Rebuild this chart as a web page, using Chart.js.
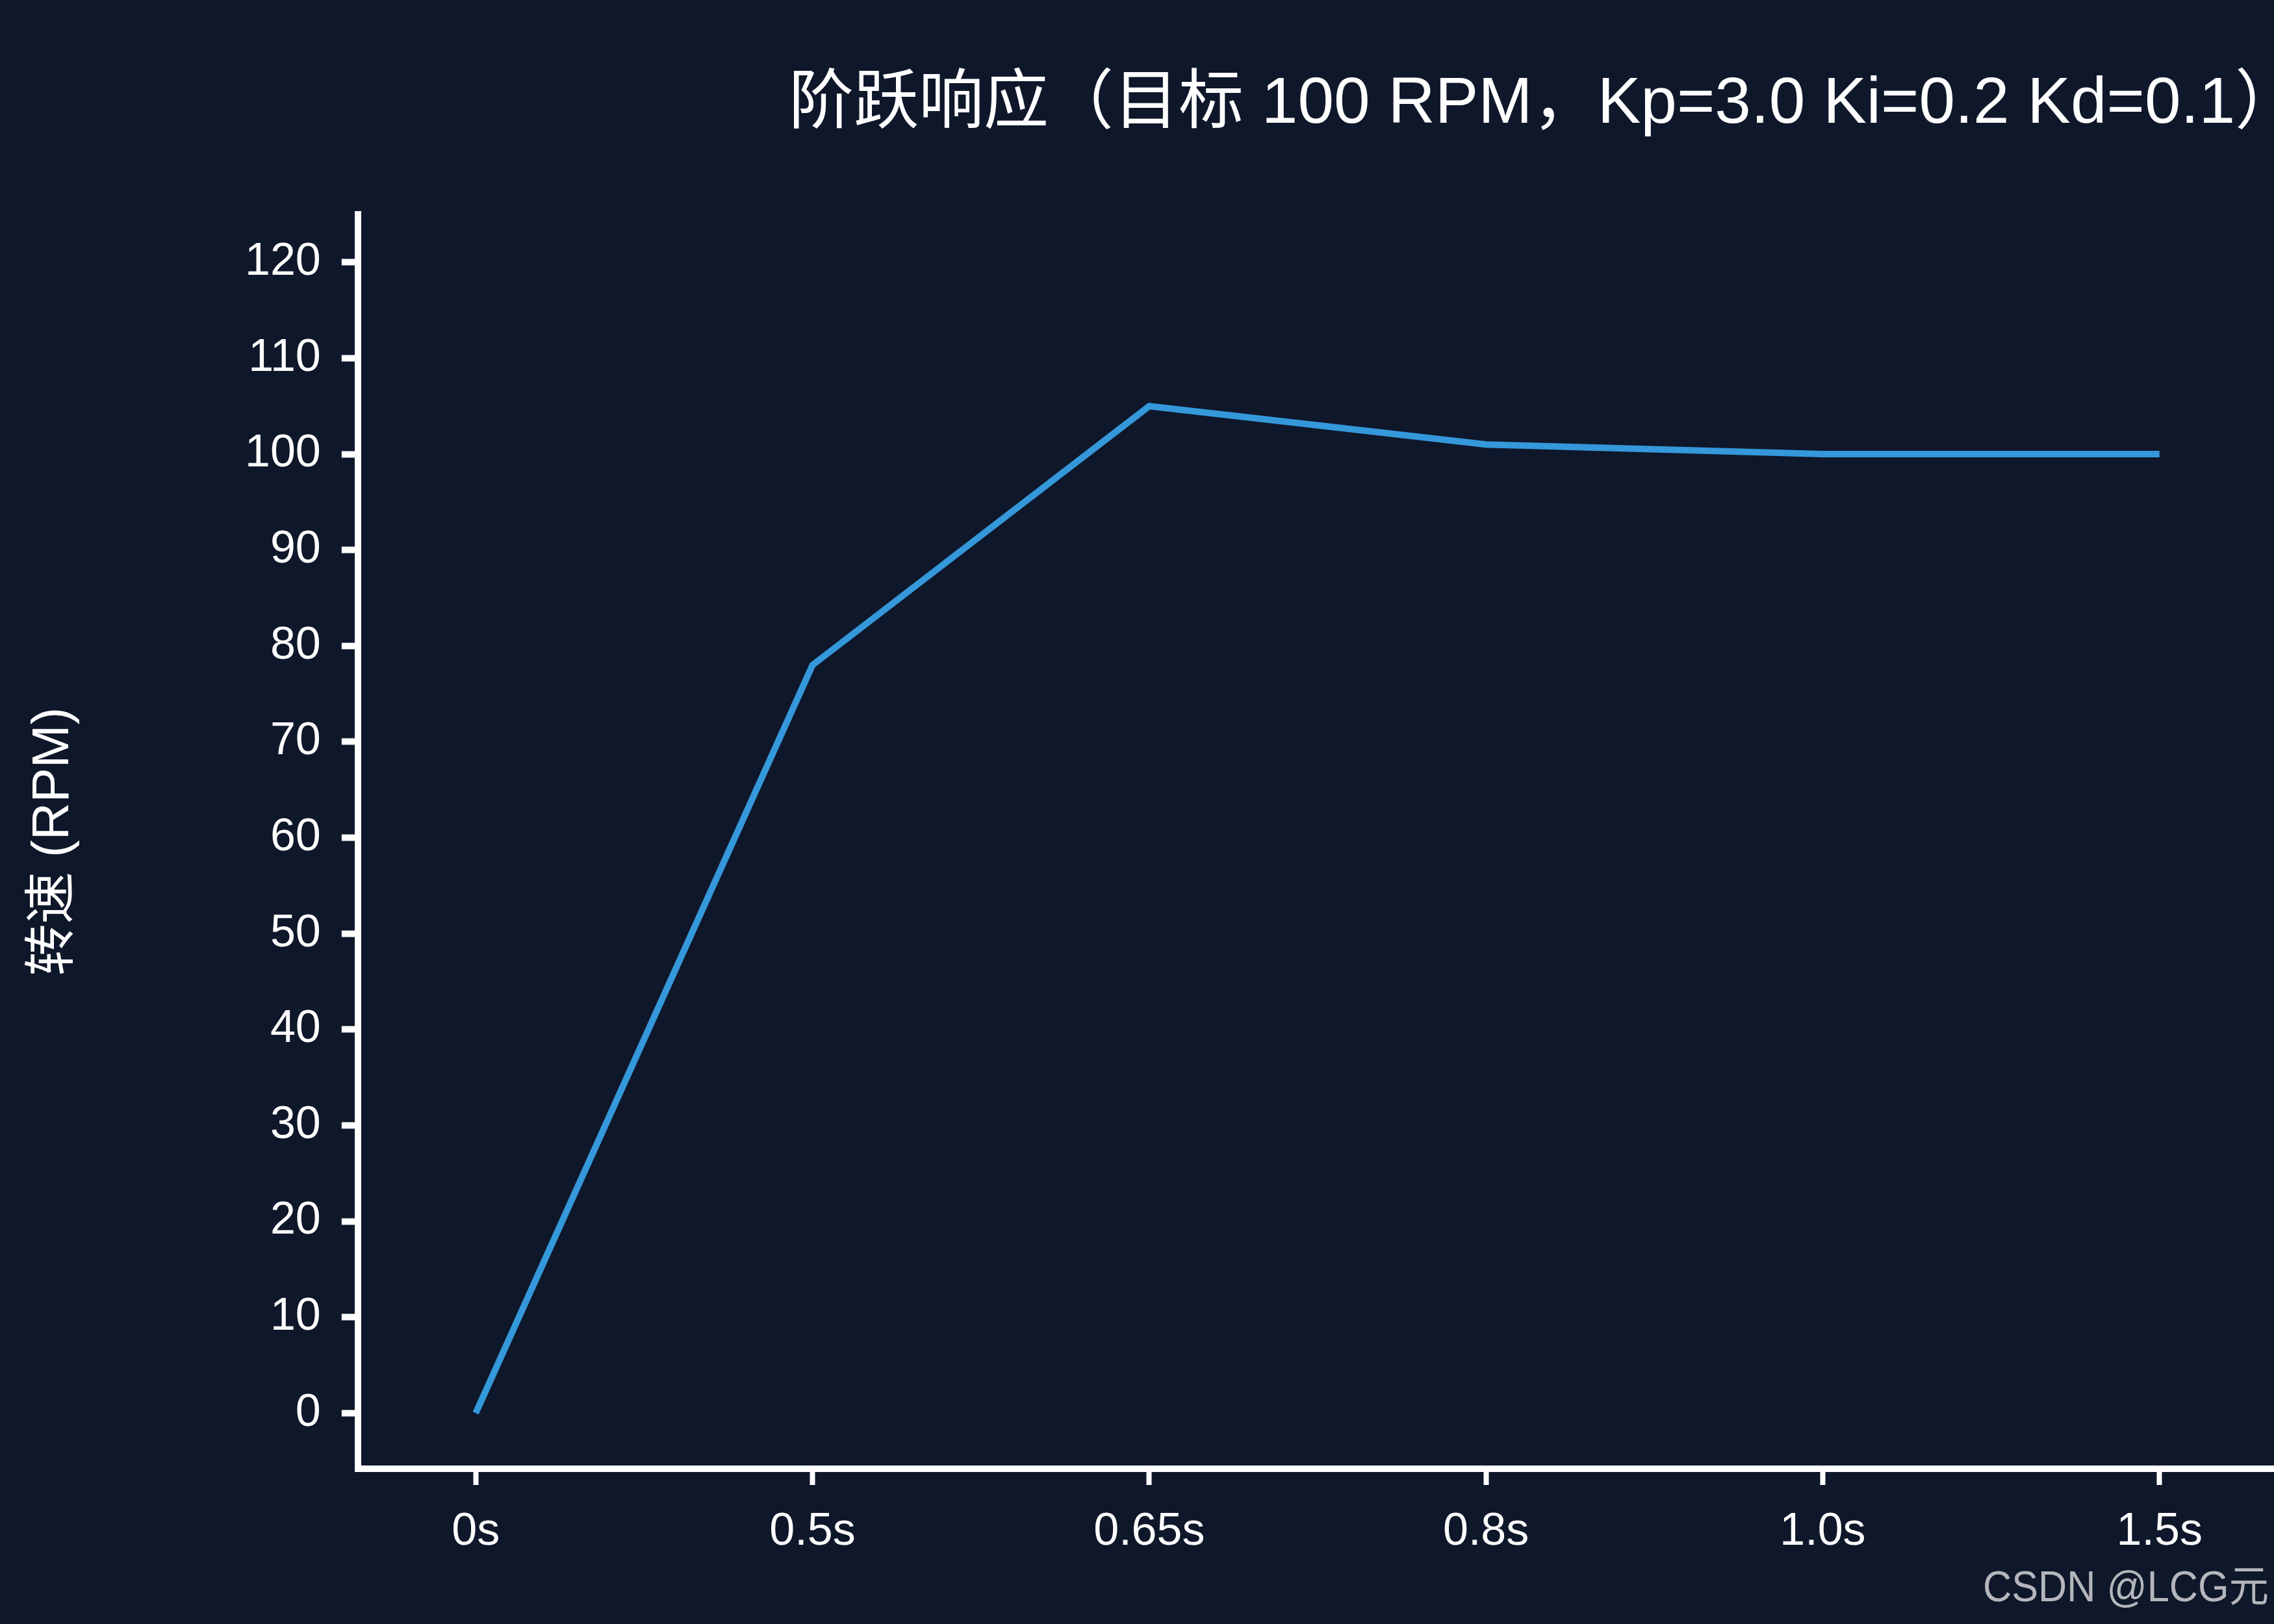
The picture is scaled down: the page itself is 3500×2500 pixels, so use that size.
<!DOCTYPE html>
<html>
<head>
<meta charset="utf-8">
<title>阶跃响应</title>
<script src="https://cdn.jsdelivr.net/npm/chart.js@4/dist/chart.umd.min.js"></script>
<style>
  html, body { margin: 0; padding: 0; background: #0f172a; }
  #stepChart { display: block; width: 3500px; height: 2500px; background: #0f172a; }
</style>
</head>
<body>
<canvas id="stepChart" width="3500" height="2500"></canvas>
<script>
// data
const timeLabels = ['0s', '0.5s', '0.65s', '0.8s', '1.0s', '1.5s'];
const rpmValues = [0, 78, 105, 101, 100, 100];
const yTicks = [0, 10, 20, 30, 40, 50, 60, 70, 80, 90, 100, 110, 120];

const FONT = '"Liberation Sans", "Noto Sans CJK SC", sans-serif';
const WHITE = '#ffffff';

// watermark in the bottom right corner
const watermark = {
  id: 'watermark',
  afterDraw(chart) {
    const ctx = chart.ctx;
    ctx.save();
    ctx.font = '66px ' + FONT;
    ctx.fillStyle = 'rgb(180, 182, 188)';
    ctx.textAlign = 'right';
    ctx.textBaseline = 'alphabetic';
    ctx.fillText('CSDN @LCG元', 3492, 2465, 440);
    ctx.restore();
  }
};

const ctx = document.getElementById('stepChart').getContext('2d');

new Chart(ctx, {
  type: 'line',
  data: {
    datasets: [
      {
        label: '转速',
        data: rpmValues.map((v, i) => ({ x: i, y: v })),
        borderColor: '#3498db',
        backgroundColor: '#3498db',
        borderWidth: 10,
        pointRadius: 0,
        tension: 0,
        fill: false,
      },
    ],
  },
  options: {
    responsive: false,
    animation: false,
    devicePixelRatio: 1,
    layout: {
      // the title's full-width bracket runs past the right edge
      padding: { left: 0, right: -40, top: 0, bottom: 68 },
    },
    plugins: {
      legend: { display: false },
      tooltip: { enabled: false },
      title: {
        display: true,
        text: '阶跃响应（目标 100 RPM，Kp=3.0 Ki=0.2 Kd=0.1）',
        align: 'end',
        color: WHITE,
        font: { size: 100, family: FONT, weight: 'normal' },
        padding: { top: 101, bottom: 109 },
      },
    },
    scales: {
      x: {
        type: 'linear',
        min: -0.35,
        max: 5.34,
        afterBuildTicks: axis => {
          axis.ticks = timeLabels.map((_, i) => ({ value: i }));
        },
        ticks: {
          callback: v => timeLabels[v],
          color: WHITE,
          font: { size: 70, family: FONT },
          padding: 31,
          maxRotation: 0,
          autoSkip: false,
        },
        grid: {
          drawOnChartArea: false,
          drawTicks: true,
          tickLength: 25,
          tickColor: WHITE,
          tickWidth: 8,
        },
        border: { display: true, color: WHITE, width: 10 },
      },
      y: {
        min: -5.8,
        max: 125,
        afterBuildTicks: axis => {
          axis.ticks = yTicks.map(v => ({ value: v }));
        },
        ticks: {
          color: WHITE,
          font: { size: 70, family: FONT },
          padding: 32,
        },
        grid: {
          drawOnChartArea: false,
          drawTicks: true,
          tickLength: 25,
          tickColor: WHITE,
          tickWidth: 10,
        },
        border: { display: true, color: WHITE, width: 10 },
        title: {
          display: true,
          text: '转速 (RPM)',
          color: WHITE,
          font: { size: 80, family: FONT },
          padding: { top: 35, bottom: 214 },
        },
      },
    },
  },
  plugins: [watermark],
});
</script>
</body>
</html>
